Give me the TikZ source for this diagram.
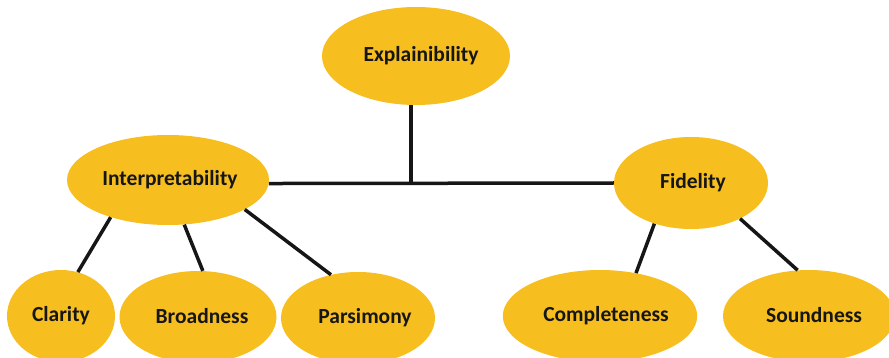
\documentclass[tikz,border=0pt]{standalone}
\usepackage{fontspec}
\setmainfont{Carlito}
\usetikzlibrary{shapes.geometric}
\definecolor{gold}{RGB}{247,190,32}
\definecolor{ink}{RGB}{22,22,22}
\begin{document}
\begin{tikzpicture}[x=1pt,y=-1pt,
  bubble/.style={ellipse, fill=gold, draw=none, inner sep=0pt,
    font=\fontsize{21.5}{24}\selectfont\bfseries, text=ink},
  link/.style={draw=ink, line width=3.5pt}]
\useasboundingbox (0,0) rectangle (889,358);

% concept ellipses
\node[bubble, minimum width=188pt, minimum height=98pt] (expl) at (416,56) {\kern10pt Explainibility};
\node[bubble, minimum width=202pt, minimum height=90pt] (interp) at (168,180) {\kern4pt Interpretability};
\node[bubble, minimum width=154pt, minimum height=92pt] (fid) at (691,183) {\kern4pt\raisebox{-2pt}{Fidelity}};

\node[bubble, minimum width=108pt, minimum height=92pt] (clar) at (61,316) {Clarity};
\node[bubble, minimum width=157pt, minimum height=92pt] (broad) at (198,317) {\kern8pt\raisebox{2pt}{Broadness}};
\node[bubble, minimum width=154pt, minimum height=92pt] (pars) at (358,318) {\kern14pt\raisebox{3pt}{Parsimony}};
\node[bubble, minimum width=190pt, minimum height=92pt] (comp) at (600,316) {\kern12pt Completeness};
\node[bubble, minimum width=172pt, minimum height=92pt] (sound) at (809,316) {\kern10pt\raisebox{1.5pt}{Soundness}};

% junction under the root
\coordinate (hub) at (411,183);

% connectors
\draw[link] (hub |- expl.south) -- (hub);
\draw[link] (interp.-2) -- (fid.180);
\draw[link] (interp.213) -- (clar.69);
\draw[link] (interp.290) -- (broad.84);
\draw[link] (interp.339) -- (pars.122);
\draw[link] (fid.228) -- (comp.50);
\draw[link] (fid.324) -- (sound.104);
\end{tikzpicture}
\end{document}
